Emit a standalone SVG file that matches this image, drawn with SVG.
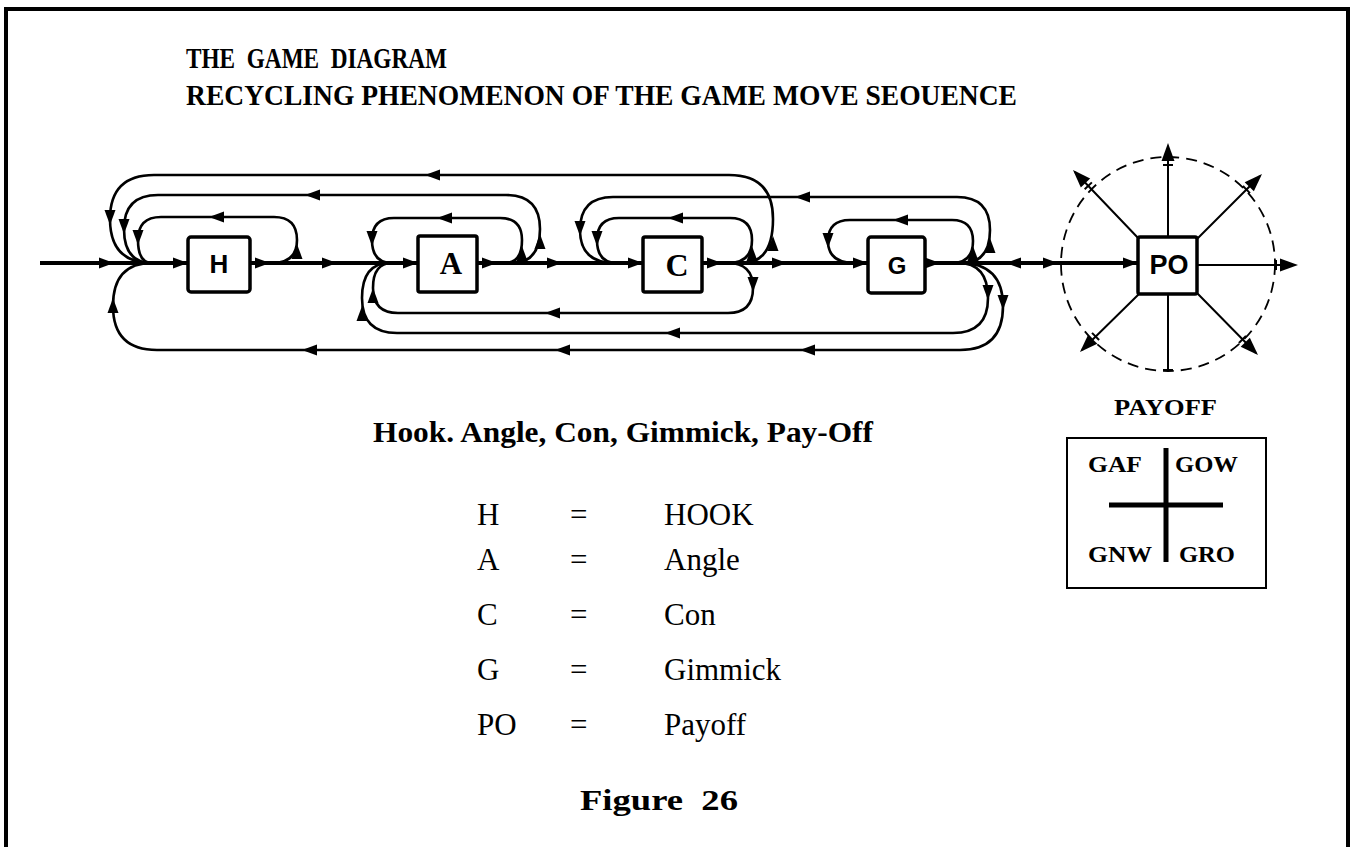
<svg xmlns="http://www.w3.org/2000/svg" width="1356" height="847" viewBox="0 0 1356 847">
<style>
.ser{font-family:"Liberation Serif","Times New Roman",serif;fill:#000}
.b{font-weight:bold}
.sans{font-family:"Liberation Sans",Arial,sans-serif;font-weight:bold;fill:#000}
.box{fill:#fff;stroke:#000;stroke-width:3.5}
.loop{fill:none;stroke:#000;stroke-width:2.6;stroke-linecap:round}
.main{fill:none;stroke:#000;stroke-width:4}
.spoke{fill:none;stroke:#000;stroke-width:2}
</style>
<defs>
<path id="ah" d="M0,0 L-15,-5.5 L-15,5.5 Z" fill="#000"/>
<g id="sh">
<path d="M0,0 L-18,-6.5 L-18,6.5 Z" fill="#000"/>
<line x1="-22" y1="-5" x2="-22" y2="5" stroke="#000" stroke-width="2"/>
</g>
</defs>
<rect x="6" y="9" width="1342" height="860" fill="#fff" stroke="#000" stroke-width="4"/>

<g id="title">
<text class="ser b" x="186" y="68" font-size="30" style="white-space:pre" textLength="261" lengthAdjust="spacingAndGlyphs">THE  GAME  DIAGRAM</text>
<text class="ser b" x="186" y="105" font-size="30" textLength="831" lengthAdjust="spacingAndGlyphs">RECYCLING PHENOMENON OF THE GAME MOVE SEOUENCE</text>
</g>

<g id="connectors">
<path class="main" d="M40,263 H188 M250,263 H418 M477,263 H643 M702,263 H868 M925,263 H1138"/>
<path class="main" stroke-width="5" d="M950,263 H1138"/>
<path class="loop" d="M272,263 Q297,263 297,240 Q297,217 274,217 L161,217 Q138,217 138,240 Q138,263 152,263"/>
<path class="loop" d="M512,263 Q540,263 540,229 Q540,195 506,195 L158,195 Q124,195 124,229 Q124,263 152,263"/>
<path class="loop" d="M742,263 Q773,263 773,219 Q773,175 729,175 L154,175 Q110,175 110,219 Q110,263 152,263"/>
<path class="loop" d="M505,263 Q522,263 522,240 Q522,218 500,218 L394,218 Q372,218 372,240 Q372,263 392,263"/>
<path class="loop" d="M728,263 Q752,263 752,240 Q752,218 730,218 L619,218 Q597,218 597,240 Q597,263 617,263"/>
<path class="loop" d="M962,263 Q990,263 990,230 Q990,197 957,197 L613,197 Q580,197 580,230 Q580,263 615,263"/>
<path class="loop" d="M952,263 Q973,263 973,241 Q973,220 952,220 L850,220 Q828,220 828,241 Q828,263 855,263"/>
<path class="loop" d="M728,263 Q753,263 753,288 Q753,313 728,313 L398,313 Q373,313 373,288 Q373,263 392,263"/>
<path class="loop" d="M958,263 Q988,263 988,298 Q988,333 953,333 L397,333 Q362,333 362,298 Q362,263 390,263"/>
<path class="loop" d="M960,263 Q1003,263 1003,306 Q1003,350 960,350 L157,350 Q113,350 113,306 Q113,263 152,263"/>

<use href="#ah" transform="translate(114,263)"/>
<use href="#ah" transform="translate(188,263)"/>
<use href="#ah" transform="translate(270,263)"/>
<use href="#ah" transform="translate(337,263)"/>
<use href="#ah" transform="translate(418,263)"/>
<use href="#ah" transform="translate(497,263)"/>
<use href="#ah" transform="translate(562,263)"/>
<use href="#ah" transform="translate(643,263)"/>
<use href="#ah" transform="translate(722,263)"/>
<use href="#ah" transform="translate(787,263)"/>
<use href="#ah" transform="translate(868,263)"/>
<use href="#ah" transform="translate(940,263)"/>
<use href="#ah" transform="translate(1006,263) rotate(180)"/>
<use href="#ah" transform="translate(1058,263)"/>
<use href="#ah" transform="translate(1138,263)"/>

<use href="#ah" transform="translate(297,244) rotate(-90)"/>
<use href="#ah" transform="translate(209,217) rotate(180)"/>
<use href="#ah" transform="translate(138,245) rotate(90)"/>
<use href="#ah" transform="translate(540,234) rotate(-90)"/>
<use href="#ah" transform="translate(305,195) rotate(180)"/>
<use href="#ah" transform="translate(124,234) rotate(90)"/>
<use href="#ah" transform="translate(773,236) rotate(-90)"/>
<use href="#ah" transform="translate(425,175) rotate(180)"/>
<use href="#ah" transform="translate(110,225) rotate(90)"/>
<use href="#ah" transform="translate(522,246) rotate(-90)"/>
<use href="#ah" transform="translate(437,218) rotate(180)"/>
<use href="#ah" transform="translate(372,246) rotate(90)"/>
<use href="#ah" transform="translate(752,246) rotate(-90)"/>
<use href="#ah" transform="translate(668,218) rotate(180)"/>
<use href="#ah" transform="translate(597,246) rotate(90)"/>
<use href="#ah" transform="translate(990,238) rotate(-90)"/>
<use href="#ah" transform="translate(795,197) rotate(180)"/>
<use href="#ah" transform="translate(580,236) rotate(90)"/>
<use href="#ah" transform="translate(973,246) rotate(-90)"/>
<use href="#ah" transform="translate(893,220) rotate(180)"/>
<use href="#ah" transform="translate(828,248) rotate(90)"/>

<use href="#ah" transform="translate(753,292) rotate(90)"/>
<use href="#ah" transform="translate(545,313) rotate(180)"/>
<use href="#ah" transform="translate(373,288) rotate(-90)"/>
<use href="#ah" transform="translate(988,300) rotate(90)"/>
<use href="#ah" transform="translate(665,333) rotate(180)"/>
<use href="#ah" transform="translate(362,306) rotate(-90)"/>
<use href="#ah" transform="translate(1003,310) rotate(90)"/>
<use href="#ah" transform="translate(800,350) rotate(180)"/>
<use href="#ah" transform="translate(555,350) rotate(180)"/>
<use href="#ah" transform="translate(302,350) rotate(180)"/>
<use href="#ah" transform="translate(113,298) rotate(-90)"/>
</g>

<g id="node-H">
<rect class="box" x="188" y="237" width="62" height="55" rx="3"/>
<text class="sans" x="219" y="273" font-size="26" text-anchor="middle">H</text>
</g>
<g id="node-A">
<rect class="box" x="418" y="236" width="59" height="56" rx="2"/>
<text class="ser b" x="451" y="274" font-size="31" text-anchor="middle">A</text>
</g>
<g id="node-C">
<rect class="box" x="643" y="237" width="59" height="55" rx="2"/>
<text class="ser b" x="677" y="276" font-size="32" text-anchor="middle">C</text>
</g>
<g id="node-G">
<rect class="box" x="868" y="237" width="57" height="56" rx="3"/>
<text class="sans" x="897" y="274" font-size="24" text-anchor="middle">G</text>
</g>

<g id="node-PO">
<circle cx="1168" cy="264" r="107" fill="none" stroke="#000" stroke-width="1.8" stroke-dasharray="11,7"/>
<path class="spoke" d="M1168,237 V146 M1140,240 L1075,172 M1196,240 L1260,176 M1197,265 H1295 M1197,293 L1256,353 M1140,293 L1082,350 M1168,294 V370 M1163,370 H1173"/>
<use href="#sh" transform="translate(1168,143) rotate(-90)"/>
<use href="#sh" transform="translate(1073,170) rotate(-134)"/>
<use href="#sh" transform="translate(1262,174) rotate(-45)"/>
<use href="#sh" transform="translate(1298,265)"/>
<use href="#sh" transform="translate(1258,355) rotate(45)"/>
<use href="#sh" transform="translate(1080,352) rotate(135)"/>
<rect class="box" x="1138" y="237" width="59" height="57" rx="2"/>
<text class="sans" x="1169" y="274" font-size="27" text-anchor="middle">PO</text>
</g>

<g id="payoff-legend">
<text class="ser b" x="1114" y="415" font-size="23" textLength="103" lengthAdjust="spacingAndGlyphs">PAYOFF</text>
<rect x="1067" y="438" width="199" height="150" fill="none" stroke="#000" stroke-width="2"/>
<path d="M1166,448 V562 M1109,505 H1223" stroke="#000" stroke-width="5" fill="none"/>
<text class="ser b" x="1088" y="472" font-size="24" textLength="54" lengthAdjust="spacingAndGlyphs">GAF</text>
<text class="ser b" x="1175" y="472" font-size="24" textLength="63" lengthAdjust="spacingAndGlyphs">GOW</text>
<text class="ser b" x="1088" y="562" font-size="24" textLength="64" lengthAdjust="spacingAndGlyphs">GNW</text>
<text class="ser b" x="1179" y="562" font-size="24" textLength="56" lengthAdjust="spacingAndGlyphs">GRO</text>
</g>

<g id="subtitle">
<text class="ser b" x="373" y="442" font-size="29" textLength="500" lengthAdjust="spacingAndGlyphs">Hook. Angle, Con, Gimmick, Pay-Off</text>
</g>

<g id="key">
<text class="ser" font-size="31" x="477" y="525">H</text><text class="ser" font-size="31" x="570" y="525">=</text><text class="ser" font-size="31" x="664" y="525">HOOK</text>
<text class="ser" font-size="31" x="477" y="570">A</text><text class="ser" font-size="31" x="570" y="570">=</text><text class="ser" font-size="31" x="664" y="570">Angle</text>
<text class="ser" font-size="31" x="477" y="625">C</text><text class="ser" font-size="31" x="570" y="625">=</text><text class="ser" font-size="31" x="664" y="625">Con</text>
<text class="ser" font-size="31" x="477" y="680">G</text><text class="ser" font-size="31" x="570" y="680">=</text><text class="ser" font-size="31" x="664" y="680">Gimmick</text>
<text class="ser" font-size="31" x="477" y="735">PO</text><text class="ser" font-size="31" x="570" y="735">=</text><text class="ser" font-size="31" x="664" y="735">Payoff</text>
</g>

<g id="caption">
<text class="ser b" x="580" y="810" font-size="29" style="white-space:pre" textLength="158" lengthAdjust="spacingAndGlyphs">Figure  26</text>
</g>
</svg>
